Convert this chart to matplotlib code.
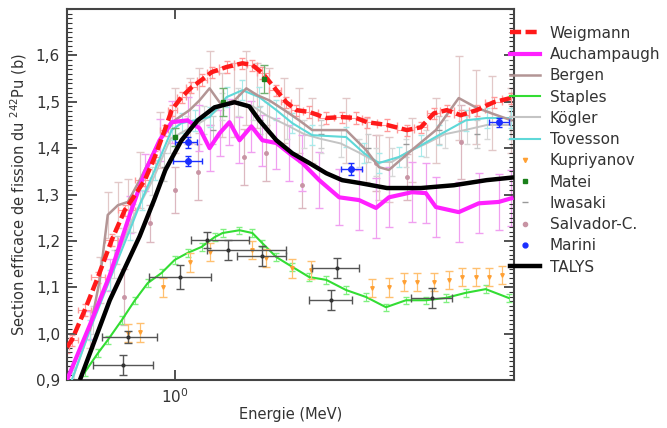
import matplotlib
matplotlib.use("Agg")
import matplotlib.pyplot as plt
from matplotlib.lines import Line2D
from matplotlib.ticker import FixedLocator, NullLocator, MultipleLocator, FuncFormatter

plt.rcParams['font.family'] = ['DejaVu Sans']
plt.rcParams['mathtext.fontset'] = 'dejavusans'

# ---------------- data (energy in MeV, cross-section in barn) ----------------
talys_e = [0.638, 0.735, 0.847, 0.907, 0.957, 1.033, 1.115, 1.208, 1.328, 1.425, 1.494,
           1.620, 1.747, 1.893, 2.052, 2.213, 2.398, 2.737, 3.215, 3.758, 4.39, 5.0]
talys_s = [0.900, 1.072, 1.210, 1.288, 1.353, 1.417, 1.460, 1.488, 1.499, 1.490, 1.460,
           1.417, 1.389, 1.368, 1.346, 1.331, 1.325, 1.314, 1.314, 1.320, 1.331, 1.337]

weig_e = [0.600, 0.614, 0.653, 0.695, 0.742, 0.789, 0.868, 0.910, 0.954, 0.986, 1.033, 1.083,
          1.136, 1.192, 1.279, 1.379, 1.446, 1.516, 1.620, 1.698, 1.781, 1.893, 2.052, 2.213,
          2.365, 2.491, 2.737, 3.009, 3.215, 3.419, 3.635, 3.884, 4.189, 4.540, 4.92]
weig_s = [0.971, 0.986, 1.051, 1.122, 1.202, 1.266, 1.331, 1.381, 1.439, 1.482, 1.510, 1.531,
          1.547, 1.564, 1.575, 1.583, 1.579, 1.562, 1.525, 1.499, 1.482, 1.478, 1.465, 1.467,
          1.465, 1.456, 1.450, 1.439, 1.445, 1.475, 1.482, 1.471, 1.482, 1.499, 1.508]

auch_e = [0.600, 0.669, 0.735, 0.808, 0.868, 0.931, 0.986, 1.063, 1.125, 1.180, 1.237, 1.297,
          1.360, 1.439, 1.516, 1.620, 1.722, 1.832, 1.985, 2.182, 2.398, 2.599, 2.763, 3.081,
          3.292, 3.452, 3.847, 4.229, 4.650, 4.94]
auch_s = [0.900, 1.019, 1.126, 1.256, 1.348, 1.417, 1.456, 1.460, 1.443, 1.400, 1.432, 1.456,
          1.417, 1.447, 1.417, 1.411, 1.389, 1.368, 1.331, 1.294, 1.288, 1.271, 1.294, 1.305,
          1.303, 1.273, 1.262, 1.281, 1.284, 1.292]
auch_err = [0.03, 0.03, 0.035, 0.04, 0.04, 0.045, 0.045, 0.05, 0.05, 0.05, 0.05, 0.05,
            0.05, 0.055, 0.055, 0.055, 0.06, 0.06, 0.06, 0.06, 0.065, 0.065, 0.065, 0.065,
            0.065, 0.065, 0.065, 0.065, 0.06, 0.06]

berg_e = [0.669, 0.701, 0.728, 0.764, 0.801, 0.847, 0.931, 1.000, 1.073, 1.125, 1.180, 1.249,
          1.328, 1.405, 1.480, 1.567, 1.682, 1.805, 1.920, 2.255, 2.479, 2.636, 2.763, 3.081,
          3.452, 3.847, 4.170, 4.497, 4.94]
berg_s = [1.008, 1.116, 1.256, 1.277, 1.284, 1.331, 1.417, 1.460, 1.482, 1.503, 1.529, 1.493,
          1.503, 1.529, 1.514, 1.503, 1.482, 1.460, 1.439, 1.439, 1.396, 1.359, 1.353, 1.396,
          1.439, 1.508, 1.488, 1.475, 1.460]
berg_err = [0.04, 0.05, 0.05, 0.05, 0.05, 0.06, 0.06, 0.07, 0.07, 0.07, 0.08, 0.07,
            0.08, 0.08, 0.07, 0.07, 0.07, 0.07, 0.07, 0.07, 0.07, 0.07, 0.07, 0.07,
            0.07, 0.09, 0.08, 0.08, 0.07]

stap_e = [0.653, 0.695, 0.728, 0.778, 0.828, 0.880, 0.940, 1.000, 1.063, 1.136, 1.208, 1.255,
          1.360, 1.446, 1.516, 1.620, 1.747, 1.893, 2.052, 2.255, 2.479, 2.724, 2.995, 3.292,
          3.618, 3.977, 4.372, 4.874]
stap_s = [0.917, 0.958, 0.986, 1.029, 1.072, 1.109, 1.131, 1.159, 1.174, 1.187, 1.208, 1.217,
          1.223, 1.217, 1.195, 1.165, 1.144, 1.122, 1.116, 1.094, 1.079, 1.057, 1.072, 1.072,
          1.077, 1.088, 1.096, 1.077]

tove_e = [0.614, 0.669, 0.735, 0.808, 0.855, 0.910, 0.986, 1.033, 1.099, 1.180, 1.279, 1.379,
          1.494, 1.620, 1.747, 1.920, 2.255, 2.456, 2.636, 2.897, 3.215, 3.500, 3.977, 4.392, 4.92]
tove_s = [0.900, 1.008, 1.116, 1.223, 1.288, 1.353, 1.439, 1.454, 1.460, 1.467, 1.510, 1.525,
          1.510, 1.482, 1.454, 1.428, 1.424, 1.389, 1.368, 1.381, 1.406, 1.428, 1.460, 1.465, 1.465]

kogl_e = [0.62, 0.68, 0.75, 0.82, 0.90, 0.98, 1.06, 1.15, 1.25, 1.35, 1.45, 1.55, 1.70,
          1.85, 2.00, 2.20, 2.40, 2.60, 2.80, 3.00, 3.30, 3.60, 4.00, 4.40, 4.90]
kogl_s = [0.91, 1.03, 1.15, 1.25, 1.33, 1.42, 1.44, 1.46, 1.49, 1.50, 1.49, 1.47, 1.45,
          1.43, 1.42, 1.41, 1.39, 1.37, 1.37, 1.39, 1.41, 1.43, 1.44, 1.45, 1.45]

kupr_e = [0.801, 0.847, 0.945, 1.073, 1.180, 1.446, 1.545, 1.747, 1.911, 2.550, 2.763, 2.967,
          3.155, 3.419, 3.670, 3.903, 4.170, 4.434, 4.716]
kupr_s = [1.001, 1.003, 1.100, 1.154, 1.176, 1.180, 1.163, 1.141, 1.137, 1.098, 1.100, 1.111,
          1.111, 1.111, 1.116, 1.122, 1.122, 1.122, 1.126]

other_e = [0.801, 0.782, 1.024, 1.163, 1.285, 1.516, 2.162, 2.101, 3.386]
other_s = [0.993, 0.932, 1.122, 1.202, 1.180, 1.167, 1.141, 1.072, 1.077]
other_elo = [0.708, 0.678, 0.884, 1.083, 1.163, 1.347, 1.920, 1.893, 3.066]
other_ehi = [0.918, 0.901, 1.186, 1.425, 1.698, 1.698, 2.398, 2.321, 3.722]
other_err = [0.013, 0.022, 0.026, 0.017, 0.022, 0.022, 0.022, 0.022, 0.022]

mari_e = [1.063, 1.063, 2.309, 4.650]
mari_s = [1.413, 1.372, 1.355, 1.456]
mari_elo = [1.000, 0.991, 2.202, 4.434]
mari_ehi = [1.114, 1.141, 2.432, 4.874]
mari_err = [0.012, 0.010, 0.012, 0.010]

mate_e = [1.000, 1.255, 1.531]
mate_s = [1.424, 1.499, 1.549]
mate_err = [0.02, 0.03, 0.03]

iwas_e = [0.76, 0.95, 1.20, 1.50, 2.00, 2.50, 3.00, 3.50, 4.20]
iwas_s = [1.18, 1.36, 1.44, 1.46, 1.43, 1.40, 1.41, 1.44, 1.43]

salv_e = [0.788, 0.888, 1.000, 1.115, 1.392, 1.545, 1.832, 2.599, 3.009, 3.884]
salv_s = [1.079, 1.238, 1.310, 1.348, 1.381, 1.389, 1.320, 1.368, 1.338, 1.413]
salv_err = [0.06, 0.04, 0.05, 0.06, 0.06, 0.06, 0.05, 0.06, 0.05, 0.08]

labels = ["Weigmann", "Auchampaugh", "Bergen", "Staples", "K\u00f6gler", "Tovesson",
          "Kupriyanov", "Matei", "Iwasaki", "Salvador-C.", "Marini", "TALYS"]

# colours
c_weig = "#ff1a1a"
c_auch = "#ff20ff"
c_berg = "#b39595"
c_stap = "#33dd33"
c_kogl = "#c4c4c4"
c_tove = "#5fd8d8"
c_kupr = "#ffa033"
c_mate = "#1a801a"
c_iwas = "#999999"
c_salv = "#c894a4"
c_mari = "#1a2eff"

fig = plt.figure(figsize=(6.67, 4.28), dpi=100)
ax = fig.add_axes([0.1004, 0.1121, 0.6702, 0.8668])
ax.set_xscale("log")


def half_widths(e):
    lo, hi = [], []
    for i, v in enumerate(e):
        a = e[i - 1] if i > 0 else v * v / e[i + 1]
        b = e[i + 1] if i < len(e) - 1 else v * v / e[i - 1]
        lo.append(v - (a * v) ** 0.5)
        hi.append((b * v) ** 0.5 - v)
    return [lo, hi]

# background error bars
ax.errorbar(salv_e, salv_s, yerr=salv_err, fmt='o', ms=2.5, color=c_salv, ecolor="#dcb8c0",
            elinewidth=0.9, capsize=3, zorder=1)
ax.errorbar(berg_e, berg_s, yerr=berg_err, fmt='none', ecolor="#e2c8c8", elinewidth=0.9,
            capsize=3, zorder=1)
ax.errorbar(auch_e, auch_s, yerr=auch_err, fmt='none', ecolor="#f0a0f0", elinewidth=0.9,
            capsize=3, zorder=1)
ax.errorbar(kogl_e, kogl_s, yerr=0.03, fmt='none', ecolor="#d8d8d8", elinewidth=0.8,
            capsize=2.5, zorder=1)
ax.errorbar(tove_e, tove_s, yerr=0.022, fmt='none', ecolor="#a8eaea", elinewidth=0.8,
            capsize=2.5, zorder=2)
ax.errorbar(iwas_e, iwas_s, yerr=0.03, fmt='_', ms=4, color=c_iwas, ecolor="#cccccc",
            elinewidth=0.8, capsize=2.5, zorder=2)
ax.errorbar(weig_e, weig_s, xerr=half_widths(weig_e), yerr=0.012, fmt='none',
            ecolor="#ff9a9a", elinewidth=0.8, capsize=2, zorder=2)

# lines
ax.plot(kogl_e, kogl_s, color=c_kogl, lw=1.4, zorder=3)
ax.plot(tove_e, tove_s, color=c_tove, lw=1.5, zorder=3)
ax.plot(berg_e, berg_s, color=c_berg, lw=1.8, zorder=3)
ax.plot(auch_e, auch_s, color=c_auch, lw=3.0, zorder=4)
ax.plot(weig_e, weig_s, color=c_weig, lw=3.2, ls=(0, (2.5, 1.0)), zorder=5)

ax.errorbar(stap_e, stap_s, yerr=0.008, fmt='none', ecolor="#80f080", elinewidth=0.8,
            capsize=2, zorder=3)
ax.plot(stap_e, stap_s, color=c_stap, lw=1.5, zorder=4)

ax.errorbar(kupr_e, kupr_s, yerr=0.02, fmt='v', ms=2.5, color=c_kupr, ecolor="#ffc070",
            elinewidth=0.9, capsize=3, zorder=4)

oxerr = [[v - l for v, l in zip(other_e, other_elo)], [h - v for v, h in zip(other_e, other_ehi)]]
ax.errorbar(other_e, other_s, xerr=oxerr, yerr=other_err, fmt='o', ms=2, color="#333333",
            ecolor="#555555", elinewidth=1.0, capsize=3, zorder=5)

ax.errorbar(mate_e, mate_s, yerr=mate_err, fmt='s', ms=3.5, color=c_mate, ecolor="#70b070",
            elinewidth=0.9, capsize=3, zorder=6)

mxerr = [[v - l for v, l in zip(mari_e, mari_elo)], [h - v for v, h in zip(mari_e, mari_ehi)]]
ax.errorbar(mari_e, mari_s, xerr=mxerr, yerr=mari_err, fmt='o', ms=4, color=c_mari,
            ecolor=c_mari, elinewidth=1.0, capsize=2.5, zorder=6)

ax.plot(talys_e, talys_s, color="black", lw=3.2, zorder=7, solid_capstyle='butt')

# axes
ax.set_xlim(0.6, 5.0)
ax.set_ylim(0.9, 1.7)
ax.xaxis.set_major_locator(FixedLocator([1.0]))
ax.xaxis.set_minor_locator(NullLocator())
ax.yaxis.set_major_locator(FixedLocator([0.9, 1.0, 1.1, 1.2, 1.3, 1.4, 1.5, 1.6]))
ax.yaxis.set_minor_locator(MultipleLocator(0.01))
ax.yaxis.set_major_formatter(FuncFormatter(lambda v, p: ("%.1f" % v).replace(".", ",")))
ax.xaxis.set_major_formatter(FuncFormatter(lambda v, p: r"$10^0$"))

ax.tick_params(which='both', direction='in', top=True, right=True, colors="#333333",
               labelcolor="#333333", labelsize=11)
ax.tick_params(which='major', length=7, width=1.2, pad=5)
ax.tick_params(which='minor', length=3.5, width=0.8)
for s in ax.spines.values():
    s.set_color("#444444")
    s.set_linewidth(1.5)

ax.set_xlabel("Energie (MeV)", fontsize=10.5, color="#333333")
ax.set_ylabel(r"Section efficace de fission du $^{242}$Pu (b)", fontsize=10.5, color="#333333")
ax.xaxis.set_label_coords(0.5, -0.072)
ax.yaxis.set_label_coords(-0.085, 0.5)

handles = [
    Line2D([], [], color=c_weig, lw=3.2, ls=(0, (2.5, 1.0))),
    Line2D([], [], color=c_auch, lw=3.0),
    Line2D([], [], color=c_berg, lw=1.8),
    Line2D([], [], color=c_stap, lw=1.5),
    Line2D([], [], color=c_kogl, lw=1.5),
    Line2D([], [], color=c_tove, lw=1.5),
    Line2D([], [], color=c_kupr, marker='v', ms=3, ls='none'),
    Line2D([], [], color=c_mate, marker='s', ms=3, ls='none'),
    Line2D([], [], color=c_iwas, marker='_', ms=4, ls='none'),
    Line2D([], [], color=c_salv, marker='o', ms=3, ls='none'),
    Line2D([], [], color=c_mari, marker='o', ms=3.5, ls='none'),
    Line2D([], [], color="black", lw=3.2),
]
leg = ax.legend(handles, labels, loc='upper left', bbox_to_anchor=(0.991, 0.955),
                frameon=False, fontsize=11, handlelength=1.95, handletextpad=0.65,
                labelspacing=0.41, borderpad=0, borderaxespad=0)
for t in leg.get_texts():
    t.set_color("#333333")

fig.savefig("out.png", dpi=100)
